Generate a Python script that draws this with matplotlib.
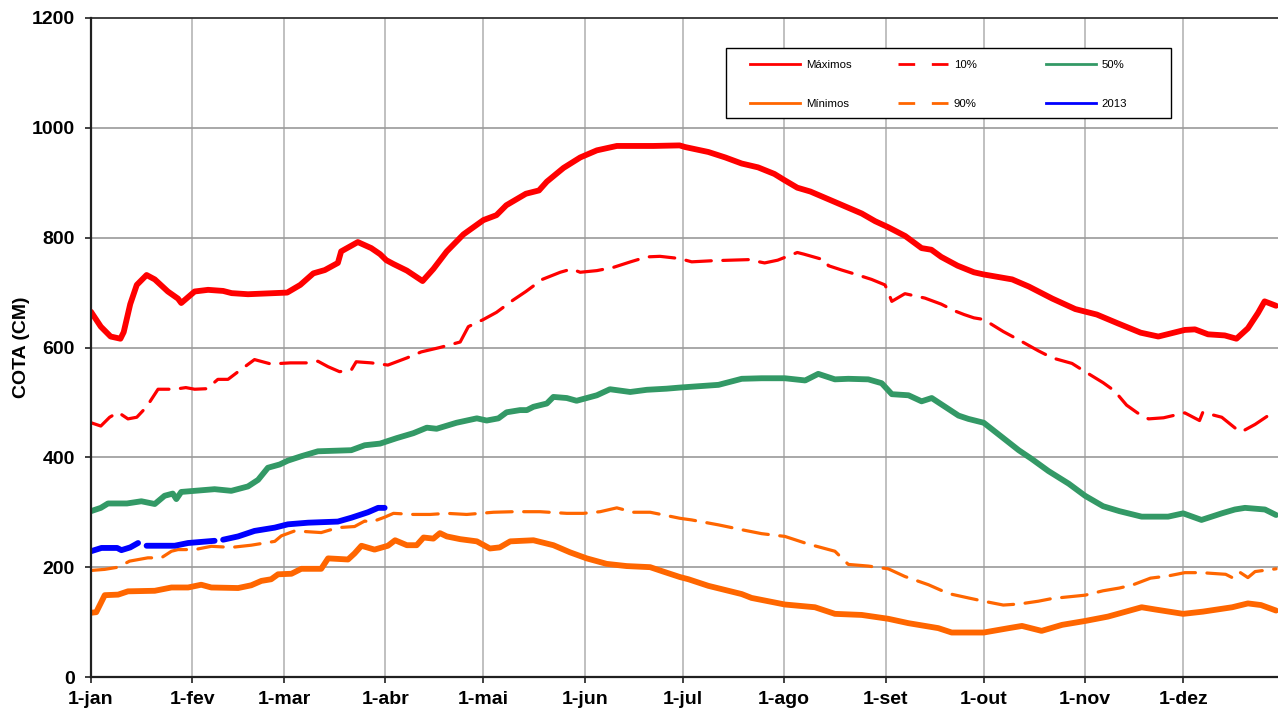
import numpy as np
import matplotlib
matplotlib.use("Agg")
import matplotlib.pyplot as plt
from matplotlib.lines import Line2D
from matplotlib.patches import Rectangle

plt.rcParams['font.family'] = ['Liberation Sans', 'DejaVu Sans']

# month ticks (day of year)
month_days = [0, 31, 59, 90, 120, 151, 181, 212, 243, 273, 304, 334]
month_labels = ['1-jan', '1-fev', '1-mar', '1-abr', '1-mai', '1-jun',
                '1-jul', '1-ago', '1-set', '1-out', '1-nov', '1-dez']

# Máximos
max_days = [0, 3, 6, 9, 10, 12, 14, 17, 19.5, 23.5, 26.6, 27.6, 31.7, 35.8, 40.4, 43, 48, 60, 64, 68,
            71.5, 75.5, 76.5, 81.6, 85.7, 88.4, 90.3, 92.5, 96.6, 101.4, 104.7, 108.8, 113.9, 120, 124,
            127, 133, 137, 139.4, 144.5, 149.6, 154.7, 160.8, 172, 180, 181.7, 188.8, 194, 199, 204,
            209, 212, 216, 220, 225.5, 230.6, 235.7, 239.8, 243.8, 249, 254, 257, 260, 265, 270, 273,
            281.7, 286.8, 294, 301, 307.6, 314, 321, 326.4, 334.5, 337.6, 341.6, 346.7, 350.3, 353.8,
            356.9, 358.9, 362.4]
max_vals = [665, 638, 620, 616, 628, 679, 714, 732, 724, 702, 689, 681, 702, 705, 703, 699, 697, 700, 714, 735,
            741, 754, 775, 792, 781, 770, 759, 752, 740, 721, 743, 775, 806, 832, 841,
            859, 880, 886, 902, 927, 946, 959, 967, 967, 968, 965, 956, 946, 935, 928,
            916, 905, 891, 884, 870, 857, 844, 830, 819, 803, 781, 778, 765, 749, 737, 733,
            724, 711, 689, 670, 660, 644, 627, 620, 632, 633, 624, 622, 616, 635,
            663, 684, 676]

# 10%
p10_days = [0, 3, 5.7, 8.3, 11.3, 14, 17, 20.5, 25.6, 29, 31.7, 35.5, 38.8, 41.9, 45, 50, 55, 61, 66, 69.4,
            72.5, 76, 79.6, 81.1, 85.7, 90.8, 96.6, 101, 106.7, 112.9, 115.4, 120, 124, 129, 133, 138,
            143.5, 147, 149.6, 154.7, 159.8, 165, 170, 174, 180, 183.7, 190, 201, 206, 210, 216, 218,
            224.5, 225.5, 229.6, 234, 238.7, 242.8, 243.5, 244.9, 248.9, 255, 260, 264, 267, 270, 273,
            279, 284, 289.7, 294, 300, 304, 309.5, 313, 316.7, 320, 323.4, 328, 334.5, 339, 340, 345.8,
            351, 352, 356, 360, 362.4]
p10_vals = [463, 457, 473, 482, 470, 473, 492, 524, 524, 527, 524, 525, 542, 542, 556, 578, 570, 572, 572, 575,
            565, 556, 559, 574, 572, 568, 581, 592, 600, 610, 638, 651, 664, 686, 702, 724,
            737, 743, 737, 740, 746, 756, 765, 766, 762, 756, 758, 760, 754, 759, 773, 770,
            759, 749, 741, 733, 724, 714, 705, 684, 698, 690, 679, 667, 660, 654, 651,
            629, 613, 594, 581, 571, 556, 536, 521, 495, 481, 470, 472, 481, 467, 482, 473,
            448, 447, 460, 476, 476]

# 50%
p50_days = [0, 3, 5.2, 11, 15.4, 19.5, 22.5, 25, 26.1, 27.6, 31.7, 37.8, 42.9, 48, 51.1, 54.1, 57.7, 60.2,
            64.3, 69.4, 79.6, 83.7, 88.4, 93.5, 98.6, 102.7, 105.7, 111.8, 118, 121, 124.6, 127.1, 131.2,
            133.3, 135.3, 139.4, 141.4, 145.5, 148.5, 154.7, 158.7, 164.9, 170, 176, 180, 184.7, 191.9,
            199, 205.1, 212.2, 218.4, 222.4, 227.5, 231.6, 237.7, 241.8, 244.9, 250, 254, 257.1, 261.2,
            265.3, 268.3, 273, 279, 283.7, 287.7, 292.8, 299, 304, 309.5, 314.5, 321.3, 329.4, 334,
            339.6, 345.8, 349.8, 352.9, 359, 362.4]
p50_vals = [302, 308, 316, 316, 320, 315, 330, 334, 324, 337, 339, 342, 339, 347, 359, 381, 387, 394,
            402, 411, 413, 422, 425, 435, 444, 454, 452, 463, 471, 467, 471, 482, 486,
            486, 492, 498, 510, 508, 503, 513, 524, 519, 523, 525, 527, 529, 532,
            543, 544, 544, 540, 552, 542, 543, 542, 535, 515, 513, 502, 508, 492,
            476, 470, 463, 435, 413, 397, 375, 352, 330, 311, 302, 292, 292, 298,
            286, 298, 305, 308, 305, 295]

# 90%
p90_days = [0, 4.2, 8.3, 11.8, 17.4, 21.5, 24.6, 26.6, 31.7, 36.8, 42.9, 49, 56.2, 58.2, 62.3, 70.4, 75.5,
            80.6, 83.7, 85.7, 89.8, 92.5, 98.6, 103.7, 108.8, 114.9, 123.1, 129.2, 137.3, 145.5, 150.6,
            155.7, 160.8, 165.9, 171, 176, 180.1, 183.7, 191.9, 200, 205.1, 212.2, 219.4, 227.5, 231.6,
            237.7, 243.8, 248.9, 256.1, 262.2, 268.3, 273, 279, 284, 289.7, 294, 299, 304, 309.5, 314.5,
            318.7, 324, 329.4, 334.5, 339.6, 347, 349, 351, 353.8, 356, 362.4]
p90_vals = [194, 196, 200, 211, 217, 217, 229, 232, 232, 238, 236, 240, 247, 257, 266, 263, 272,
            274, 284, 282, 291, 298, 296, 296, 298, 296, 300, 301, 301, 298, 298,
            301, 308, 300, 300, 294, 289, 286, 277, 267, 261, 256, 242, 229, 205,
            202, 197, 183, 168, 152, 144, 138, 131, 133, 138, 143, 146, 149, 157, 162,
            168, 180, 184, 190, 190, 187, 181, 192, 181, 192, 197]

# Mínimos
min_days = [0, 1.6, 4.2, 8.3, 11.3, 19.5, 24.6, 29.7, 33.7, 36.8, 45, 49, 52.1, 55.1, 57.2, 61.3, 64.3,
            70.4, 72.5, 78.6, 80.6, 82.7, 86.7, 90.8, 93, 96.6, 99.6, 101.7, 104.7, 106.7, 108.8, 112.9,
            118, 122, 125, 128.2, 135.3, 141.4, 146.5, 151.6, 157.7, 163.8, 171, 175, 180.1, 182.7,
            188.8, 199, 202, 212.2, 221.4, 227.5, 235.7, 243.8, 250, 259.1, 263.2, 270.3, 273, 280.7,
            284.7, 290.7, 297, 304, 311, 321.3, 325.4, 334, 340, 349, 353.8, 357.8, 362.4]
min_vals = [117, 118, 149, 150, 156, 157, 163, 163, 168, 163, 162, 167, 175, 178, 187, 188, 197,
            197, 216, 214, 225, 239, 232, 239, 249, 240, 240, 254, 252, 262, 256, 251,
            247, 234, 236, 247, 249, 240, 227, 216, 206, 202, 200, 192, 182, 178,
            166, 151, 144, 132, 127, 115, 113, 106, 98, 89, 81, 81, 81, 89,
            93, 84, 95, 102, 110, 127, 123, 115, 119, 127, 134, 131, 121]

# 2013 (gaps = missing data)
y2013_days = [0, 3.2, 8, 9.3, 12, 14.4, 15.7, 17, 25.6, 29.7, 37.8, 39.1, 40.4, 45, 50, 56.2, 60.2,
              66.4, 75.5, 79.6, 84.7, 87.8, 89.8]
y2013_vals = [229, 235, 235, 231, 236, 244, np.nan, 239, 239, 244, 248, np.nan, 250, 256, 266, 272, 278,
              281, 283, 290, 300, 308, 308]

RED = '#FF0000'
ORANGE = '#FF6600'
GREEN = '#339966'
BLUE = '#0000FF'

fig = plt.figure(figsize=(12.78, 7.08), dpi=100)
ax = fig.add_axes([91/1278, 1 - 677/708, 1 - 91/1278, (677 - 18)/708])

thick = dict(lw=4.2, solid_capstyle='round', solid_joinstyle='round')
dash = dict(lw=2.3, linestyle=(0, (8, 3.6)), dash_capstyle='round', dash_joinstyle='round')

ax.plot(max_days, max_vals, color=RED, zorder=5, **thick)
ax.plot(p10_days, p10_vals, color=RED, zorder=4, **dash)
ax.plot(p50_days, p50_vals, color=GREEN, zorder=5, **thick)
ax.plot(p90_days, p90_vals, color=ORANGE, zorder=4, **dash)
ax.plot(min_days, min_vals, color=ORANGE, zorder=5, **thick)
ax.plot(y2013_days, y2013_vals, color=BLUE, zorder=6, **thick)

ax.set_xlim(0, 363)
ax.set_ylim(0, 1200)
ax.set_yticks(range(0, 1201, 200))
ax.set_xticks(month_days)
ax.set_xticklabels(month_labels)

# gridlines: vertical lighter than horizontal
for d in month_days[1:]:
    ax.axvline(d, color='#C0C0C0', lw=1.4, zorder=1)
for v in range(200, 1001, 200):
    ax.axhline(v, color='#9A9A9A', lw=1.2, zorder=1)

ax.spines['right'].set_visible(False)
ax.spines['top'].set_color('#333333')
ax.spines['top'].set_linewidth(1.3)
for s in ['left', 'bottom']:
    ax.spines[s].set_color('#202020')
    ax.spines[s].set_linewidth(1.6)
    ax.spines[s].set_zorder(7)

ax.tick_params(axis='both', direction='out', length=4.5, width=1.2, color='#202020',
               labelsize=14)
ax.tick_params(axis='x', pad=5.5)
ax.tick_params(axis='y', pad=7)
for lab in ax.get_xticklabels() + ax.get_yticklabels():
    lab.set_fontweight('bold')

ax.set_ylabel('COTA (CM)', fontsize=14, fontweight='bold')
ax.yaxis.set_label_coords(-0.051, 0.5)

# legend box (Excel style: equal column widths)
box = Rectangle((726/1278, 1 - 118/708), 445/1278, 70/708, transform=fig.transFigure,
                facecolor='white', edgecolor='black', lw=1.0, zorder=8)
fig.patches.append(box)

columns = [
    [('Máximos', RED, '-'), ('Mínimos', ORANGE, '-')],
    [('10%', RED, (0, (6, 6))), ('90%', ORANGE, (0, (6, 6)))],
    [('50%', GREEN, '-'), ('2013', BLUE, '-')],
]
col_x = [752, 900, 1048]
for cx, col in zip(col_x, columns):
    handles = [Line2D([], [], color=c, lw=2, linestyle=ls) for _, c, ls in col]
    labels = [name for name, _, _ in col]
    leg = fig.legend(handles, labels, loc='upper left',
                     bbox_to_anchor=((cx - 2)/1278, 1 - 60/708),
                     frameon=False, fontsize=8.2, handlelength=4.4, handletextpad=0.5,
                     borderpad=0, borderaxespad=0, labelspacing=2.55)
    leg.set_zorder(9)

fig.savefig('out.png', dpi=100)
